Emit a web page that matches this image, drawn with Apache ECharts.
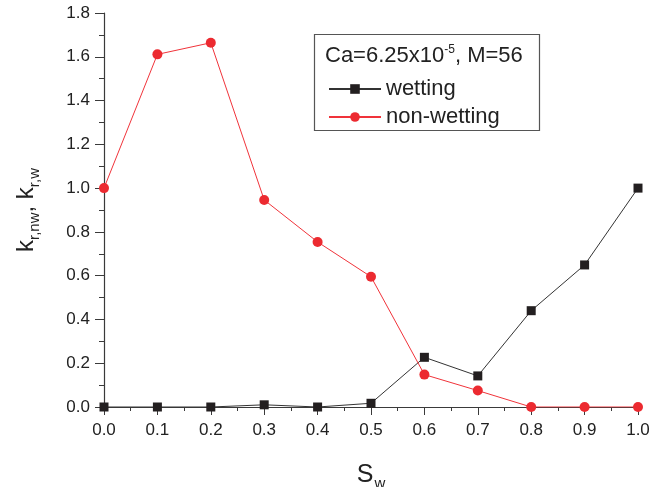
<!DOCTYPE html>
<html>
<head>
<meta charset="utf-8">
<script src="https://cdn.jsdelivr.net/npm/echarts@6/dist/echarts.min.js"></script>
<style>
html,body{margin:0;padding:0;background:#fff;}
#main{width:654px;height:487px;}
</style>
</head>
<body>
<div id="main"></div>
<script>
// 数据
var sw = [0.0, 0.1, 0.2, 0.3, 0.4, 0.5, 0.6, 0.7, 0.8, 0.9, 1.0];
var wetting = [0.0, 0.0, 0.0, 0.01, 0.0, 0.017, 0.227, 0.142, 0.44, 0.649, 1.0];
var nonWetting = [1.0, 1.611, 1.664, 0.946, 0.754, 0.595, 0.148, 0.075, 0.0, 0.0, 0.0];

function pairs(xs, ys){
    var out = [];
    for (var i = 0; i < xs.length; i++) out.push([xs[i], ys[i]]);
    return out;
}

var font = "Arial, 'Liberation Sans', sans-serif";
var axisColor = "#3a3a3a";

var myChart = echarts.init(document.getElementById("main"));

option = {
    animation : false,
    textStyle : {fontFamily : font},
    grid : {left : 104, right : 16, top : 13, bottom : 80, outerBoundsMode : "none"},
    xAxis : {
        type : "value",
        min : 0, max : 1, interval : 0.1,
        name : "{m|S}{s|w}",
        nameLocation : "middle",
        nameGap : 53,
        nameTextStyle : {
            rich : {
                m : {fontSize : 25, color : "#222", fontFamily : font},
                s : {fontSize : 15, color : "#222", fontFamily : font, verticalAlign : "bottom", padding : [16, 0, 0, 1]}
            }
        },
        axisLine : {lineStyle : {color : axisColor, width : 1.2}},
        axisTick : {inside : false, length : 8, lineStyle : {color : axisColor}},
        minorTick : {show : true, splitNumber : 2, length : 4, lineStyle : {color : axisColor}},
        splitLine : {show : false},
        axisLabel : {
            fontSize : 17, color : "#222", margin : 15,
            formatter : function(v){ return v.toFixed(1); }
        }
    },
    yAxis : {
        type : "value",
        min : 0, max : 1.8, interval : 0.2,
        name : "{m|k}{s|r,nw}{m|, k}{s|r,w}",
        nameLocation : "middle",
        nameGap : 62,
        nameRotate : 90,
        nameTextStyle : {
            rich : {
                m : {fontSize : 24, color : "#222", fontFamily : font},
                s : {fontSize : 15, color : "#222", fontFamily : font, verticalAlign : "bottom", padding : [16, 0, 0, 0]}
            }
        },
        axisLine : {show : true, lineStyle : {color : axisColor, width : 1.2}},
        axisTick : {show : true, inside : false, length : 9, lineStyle : {color : axisColor}},
        minorTick : {show : true, splitNumber : 2, length : 5, lineStyle : {color : axisColor}},
        splitLine : {show : false},
        axisLabel : {
            fontSize : 17, color : "#222", margin : 14,
            formatter : function(v){ return v.toFixed(1); }
        }
    },
    legend : {
        orient : "vertical",
        left : 323, top : 73,
        itemWidth : 52, itemHeight : 12,
        itemGap : 6,
        textStyle : {fontSize : 22, color : "#222", fontFamily : font},
        data : ["wetting", "non-wetting"]
    },
    graphic : [
        {
            type : "rect",
            shape : {x : 314.5, y : 34.5, width : 225, height : 96},
            style : {fill : "none", stroke : "#555", lineWidth : 1.2},
            z : 1
        },
        {
            type : "text",
            left : 325, top : 44,
            style : {
                text : "{m|Ca=6.25x10}{s|-5}{m|, M=56}",
                rich : {
                    m : {fontSize : 22, fill : "#222", fontFamily : font},
                    s : {fontSize : 12, fill : "#222", fontFamily : font, verticalAlign : "top", padding : [0, 0, 12, 0]}
                }
            },
            z : 2
        }
    ],
    series : [
        {
            name : "wetting",
            type : "line",
            data : pairs(sw, wetting),
            symbol : "rect",
            symbolSize : 9,
            lineStyle : {color : "#333", width : 1},
            itemStyle : {color : "#231f20"},
            z : 3
        },
        {
            name : "non-wetting",
            type : "line",
            data : pairs(sw, nonWetting),
            symbol : "circle",
            symbolSize : 10,
            lineStyle : {color : "#f0333a", width : 1},
            itemStyle : {color : "#ec2a30"},
            z : 4
        }
    ]
};

myChart.setOption(option);
</script>
</body>
</html>
